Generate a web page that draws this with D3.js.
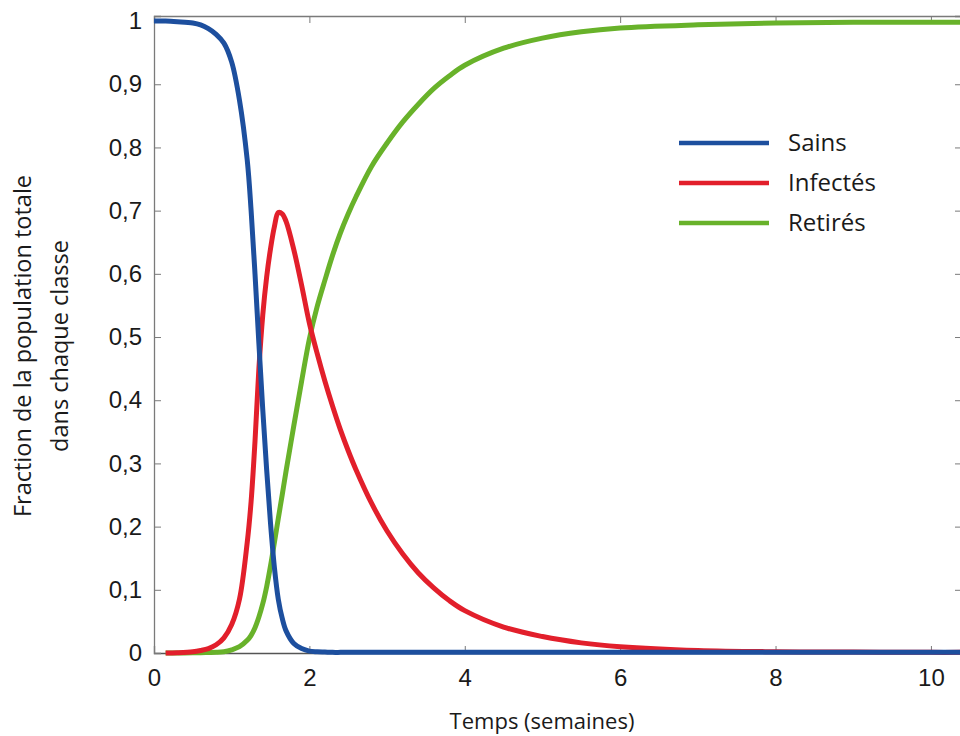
<!DOCTYPE html>
<html>
<head>
<meta charset="utf-8">
<script src="https://cdn.jsdelivr.net/npm/d3@7"></script>
<style>
  body { margin: 0; background: #fff; }
  svg { display: block; font-family: "Open Sans", sans-serif; }
</style>
</head>
<body>
<div id="chart"></div>
<script>
// time in weeks
const weeks = [0, 0.15, 0.3, 0.5, 0.6, 0.7, 0.8, 0.9, 1.0, 1.1, 1.2, 1.25, 1.3, 1.35, 1.4, 1.45, 1.5, 1.55, 1.6, 1.65, 1.7, 1.8, 1.9, 2.0, 2.1, 2.2, 2.3, 2.4, 2.5, 2.6, 2.8, 3.0, 3.2, 3.4, 3.6, 3.8, 4.0, 4.5, 5.0, 5.5, 6.0, 7.0, 8.0, 9.0, 10.0, 10.5];
const sains = [1.0, 1.0, 0.999, 0.997, 0.994, 0.988, 0.979, 0.965, 0.935, 0.875, 0.78, 0.7, 0.6, 0.49, 0.385, 0.29, 0.205, 0.135, 0.085, 0.055, 0.035, 0.015, 0.007, 0.003, 0.002, 0.0015, 0.001, 0.001, 0.001, 0.001, 0.001, 0.001, 0.001, 0.001, 0.001, 0.001, 0.001, 0.001, 0.001, 0.001, 0.001, 0.001, 0.001, 0.001, 0.001, 0.001];
const infectes = [null, 0, 0.0005, 0.002, 0.004, 0.007, 0.013, 0.024, 0.045, 0.085, 0.175, 0.24, 0.335, 0.45, 0.535, 0.595, 0.64, 0.675, 0.697, 0.695, 0.683, 0.638, 0.582, 0.522, 0.474, 0.43, 0.39, 0.353, 0.32, 0.29, 0.237, 0.193, 0.157, 0.127, 0.103, 0.083, 0.067, 0.041, 0.026, 0.016, 0.01, 0.004, 0.002, 0.0015, 0.001, 0.001];
const retires = [null, 0, 0, 0.0002, 0.0004, 0.0007, 0.001, 0.002, 0.005, 0.01, 0.02, 0.028, 0.04, 0.057, 0.078, 0.105, 0.138, 0.175, 0.213, 0.25, 0.288, 0.36, 0.43, 0.497, 0.548, 0.59, 0.63, 0.665, 0.695, 0.722, 0.77, 0.807, 0.84, 0.868, 0.893, 0.913, 0.93, 0.957, 0.973, 0.983, 0.989, 0.994, 0.997, 0.998, 0.998, 0.998];

const seriesNames = ["Sains", "Infectés", "Retirés"];
const seriesColors = ["#1d4f9e", "#e21f2b", "#68b22a"];
const xTicks = [0, 2, 4, 6, 8, 10];
const yTicks = [0, 0.1, 0.2, 0.3, 0.4, 0.5, 0.6, 0.7, 0.8, 0.9, 1];

const width = 960, height = 736;
const margin = { top: 16, right: -2, bottom: 83, left: 154 };

const svg = d3.select("#chart").append("svg")
  .attr("width", width)
  .attr("height", height);

const x = d3.scaleLinear().domain([0, 10.4]).range([margin.left, width - margin.right]);
const y = d3.scaleLinear().domain([0, 1.008]).range([height - margin.bottom, margin.top]);

const fmt = d => d === 0 || d === 1 ? String(d) : d3.format(".1f")(d).replace(".", ",");

// frame with inward ticks
const frameColor = "#7a7a7a";
const tickLen = 7;

svg.append("g")
  .attr("transform", "translate(0," + y.range()[0] + ")")
  .call(d3.axisBottom(x).tickValues(xTicks).tickSize(-tickLen).tickPadding(tickLen + 9).tickFormat(d => d))
  .call(g => g.select(".domain").attr("stroke", "#555").attr("stroke-width", 1.3))
  .call(g => g.selectAll(".tick line").attr("stroke", frameColor))
  .call(g => g.selectAll(".tick text").attr("font-size", 24).attr("fill", "#1a1a1a"));

svg.append("g")
  .attr("transform", "translate(0," + y.range()[1] + ")")
  .call(d3.axisTop(x).tickValues(xTicks).tickSize(-tickLen).tickFormat(""))
  .call(g => g.select(".domain").attr("stroke", frameColor).attr("stroke-width", 1.3))
  .call(g => g.selectAll(".tick line").attr("stroke", frameColor));

svg.append("g")
  .attr("transform", "translate(" + x.range()[0] + ",0)")
  .call(d3.axisLeft(y).tickValues(yTicks).tickSize(-tickLen).tickPadding(tickLen + 5).tickFormat(fmt))
  .call(g => g.select(".domain").attr("stroke", frameColor).attr("stroke-width", 1.3))
  .call(g => g.selectAll(".tick line").attr("stroke", frameColor))
  .call(g => g.selectAll(".tick text").attr("font-size", 24).attr("fill", "#1a1a1a"));

svg.append("g")
  .attr("transform", "translate(" + x.range()[1] + ",0)")
  .call(d3.axisRight(y).tickValues(yTicks).tickSize(-tickLen).tickFormat(""))
  .call(g => g.select(".domain").attr("stroke", frameColor).attr("stroke-width", 1.3))
  .call(g => g.selectAll(".tick line").attr("stroke", frameColor));

// curves
const seriesValues = [sains, infectes, retires];
const line = d3.line()
  .defined(d => d[1] !== null)
  .x(d => x(d[0]))
  .y(d => y(Math.max(0, d[1])))
  .curve(d3.curveCatmullRom.alpha(0.5));

[2, 1, 0].forEach(i => {
  svg.append("path")
    .datum(weeks.map((t, j) => [t, seriesValues[i][j]]))
    .attr("fill", "none")
    .attr("stroke", seriesColors[i])
    .attr("stroke-width", 5)
    .attr("stroke-linejoin", "round")
    .attr("d", line);
});

// legend
const legend = svg.append("g").attr("transform", "translate(679,143)");
seriesNames.forEach((name, i) => {
  const row = legend.append("g").attr("transform", "translate(0," + i * 40 + ")");
  row.append("line")
    .attr("x1", 0).attr("x2", 90)
    .attr("stroke", seriesColors[i])
    .attr("stroke-width", 4.5);
  row.append("text")
    .attr("x", 109)
    .attr("dy", "0.35em")
    .attr("font-size", 24)
    .attr("fill", "#1a1a1a")
    .text(name);
});

// axis titles
svg.append("text")
  .attr("x", 542)
  .attr("y", 729)
  .attr("text-anchor", "middle")
  .attr("font-size", 22)
  .attr("fill", "#1a1a1a")
  .text("Temps (semaines)");

const yTitle = svg.append("text")
  .attr("transform", "translate(0,346) rotate(-90)")
  .attr("text-anchor", "middle")
  .attr("font-size", 23.5)
  .attr("fill", "#1a1a1a");
yTitle.append("tspan").attr("x", 0).attr("y", 31).text("Fraction de la population totale");
yTitle.append("tspan").attr("x", 0).attr("y", 68).text("dans chaque classe");
</script>
</body>
</html>
